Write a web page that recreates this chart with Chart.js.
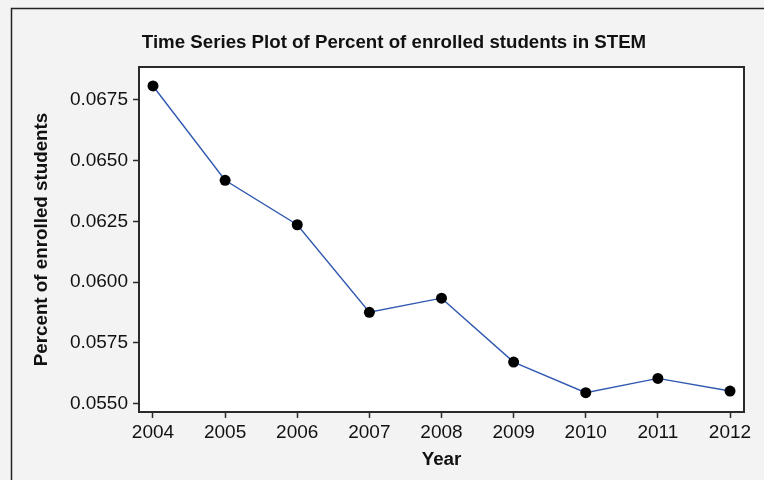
<!DOCTYPE html>
<html>
<head>
<meta charset="utf-8">
<script src="https://cdn.jsdelivr.net/npm/chart.js@4/dist/chart.umd.min.js"></script>
<style>
  html, body { margin: 0; padding: 0; background: #f3f3f3; }
  #wrap { width: 764px; height: 480px; position: relative; }
</style>
</head>
<body>
<div id="wrap"><canvas id="c" width="764" height="480"></canvas></div>
<script>
const chartTitle = "Time Series Plot of Percent of enrolled students in STEM";
const xTitle = "Year";
const yTitle = "Percent of enrolled students";
const years = [2004, 2005, 2006, 2007, 2008, 2009, 2010, 2011, 2012];
const percents = [0.06807, 0.06419, 0.06236, 0.05876, 0.05934, 0.05671, 0.05545, 0.05604, 0.05552];
const yTickValues = [0.0550, 0.0575, 0.0600, 0.0625, 0.0650, 0.0675];

const FONT = "'Liberation Sans', Arial, sans-serif";

const framePlugin = {
  id: 'frame',
  beforeDraw(chart) {
    const ctx = chart.ctx;
    const a = chart.chartArea;
    ctx.save();
    ctx.fillStyle = '#f3f3f3';
    ctx.fillRect(0, 0, chart.width, chart.height);
    // outer frame (left and top edges visible)
    ctx.strokeStyle = '#222';
    ctx.lineWidth = 1.5;
    ctx.beginPath();
    ctx.moveTo(11.5, chart.height + 2);
    ctx.lineTo(11.5, 8.5);
    ctx.lineTo(chart.width + 2, 8.5);
    ctx.stroke();
    ctx.fillStyle = '#ffffff';
    ctx.fillRect(a.left, a.top, a.right - a.left, a.bottom - a.top);
    // title
    ctx.fillStyle = '#111';
    ctx.font = 'bold 18.7px ' + FONT;
    ctx.textAlign = 'center';
    ctx.textBaseline = 'middle';
    ctx.fillText(chartTitle, 394, 42.5);
    ctx.restore();
  },
  afterDraw(chart) {
    const ctx = chart.ctx;
    const a = chart.chartArea;
    ctx.save();
    ctx.strokeStyle = '#2a2a2a';
    ctx.lineWidth = 2;
    ctx.strokeRect(a.left, a.top, a.right - a.left, a.bottom - a.top);
    ctx.restore();
  }
};

new Chart(document.getElementById('c'), {
  type: 'line',
  data: {
    datasets: [{
      data: years.map((y, i) => ({ x: y, y: percents[i] })),
      borderColor: '#3058b0',
      borderWidth: 1.4,
      pointBackgroundColor: '#000',
      pointBorderColor: '#000',
      pointRadius: 5.5,
      pointBorderWidth: 0,
      tension: 0,
      fill: false
    }]
  },
  options: {
    responsive: false,
    animation: false,
    events: [],
    layout: { padding: { left: 0, top: 67, right: 20, bottom: 0 } },
    plugins: {
      legend: { display: false },
      title: { display: false },
      tooltip: { enabled: false }
    },
    scales: {
      x: {
        type: 'linear',
        min: 2003.806,
        max: 2012.194,
        afterBuildTicks: (s) => { s.ticks = years.map(v => ({ value: v })); },
        afterFit: (s) => { s.height = 68; },
        grid: { drawOnChartArea: false, drawTicks: true, tickLength: 6, tickColor: '#2a2a2a', tickWidth: 1.5 },
        border: { display: true, color: '#2a2a2a', width: 2 },
        ticks: {
          color: '#111',
          font: { family: FONT, size: 19 },
          padding: 3,
          maxRotation: 0,
          autoSkip: false,
          callback: (v) => String(v)
        },
        title: {
          display: true,
          text: xTitle,
          color: '#111',
          font: { family: FONT, size: 18.8, weight: 'bold' },
          padding: 9
        }
      },
      y: {
        type: 'linear',
        min: 0.054657,
        max: 0.06885,
        afterBuildTicks: (s) => { s.ticks = yTickValues.map(v => ({ value: v })); },
        afterFit: (s) => { s.width = 139; },
        grid: { drawOnChartArea: false, drawTicks: true, tickLength: 6, tickColor: '#2a2a2a', tickWidth: 1.5 },
        border: { display: true, color: '#2a2a2a', width: 2 },
        ticks: {
          color: '#111',
          font: { family: FONT, size: 19 },
          padding: 5,
          autoSkip: false,
          callback: (v) => Number(v).toFixed(4)
        },
        title: {
          display: true,
          text: yTitle,
          color: '#111',
          font: { family: FONT, size: 18.8, weight: 'bold' },
          padding: 31
        }
      }
    }
  },
  plugins: [framePlugin]
});
</script>
</body>
</html>
